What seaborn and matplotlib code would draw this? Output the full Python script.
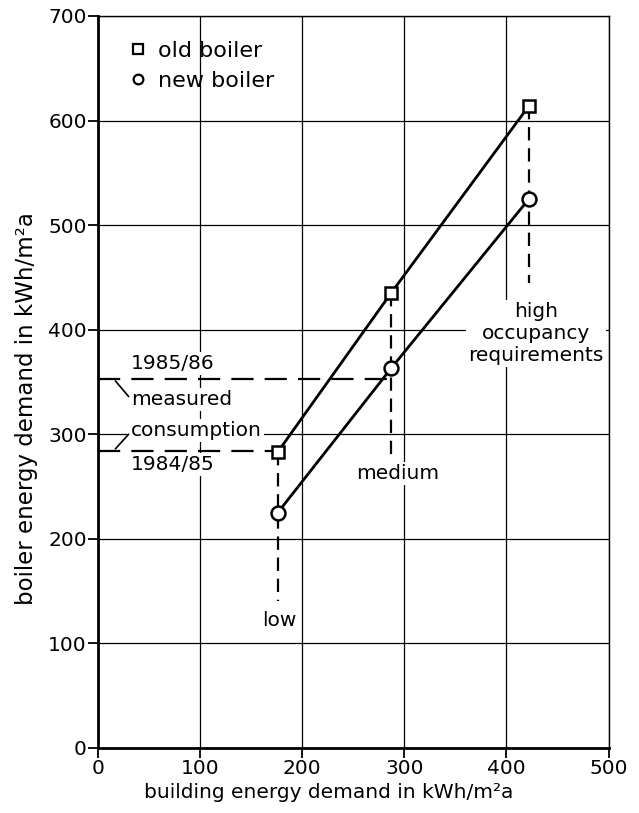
import matplotlib
matplotlib.use("Agg")
import matplotlib.pyplot as plt
from matplotlib.lines import Line2D
import seaborn as sns
import pandas as pd

# ---- data ----
occupancy = ["low", "medium", "high"]
building_demand = [176, 287, 422]
old_boiler = [283, 435, 614]
new_boiler = [225, 363, 525]
measured_8586 = 353
measured_8485 = 284
x_ticks = [0, 100, 200, 300, 400, 500]
y_ticks = [0, 100, 200, 300, 400, 500, 600, 700]
# lower ends of vertical dashed drop lines
drop_ends = [141, 280, 445]

df = pd.DataFrame({
    "building": building_demand * 2,
    "boiler": old_boiler + new_boiler,
    "series": ["old boiler"] * 3 + ["new boiler"] * 3,
})

sns.set_theme(style="white")
plt.rcParams["font.family"] = ["DejaVu Sans"]
plt.rcParams["text.color"] = "black"
plt.rcParams["axes.labelcolor"] = "black"

fig = plt.figure(figsize=(6.39, 8.13), dpi=100)
ax = fig.add_axes([0.1534, 0.0800, 0.799, 0.9004])

ax.set_xlim(0, 500)
ax.set_ylim(0, 700)
ax.set_xticks(x_ticks)
ax.set_yticks(y_ticks)
ax.grid(True, color="black", linewidth=0.9, zorder=0)
ax.set_axisbelow(True)

for s in ["left", "bottom"]:
    ax.spines[s].set_linewidth(2.0)
for s in ["top", "right"]:
    ax.spines[s].set_linewidth(1.0)
for s in ax.spines.values():
    s.set_color("black")

ax.tick_params(axis="both", which="major", direction="out", length=7, width=1.3,
               color="black", labelsize=14.5, pad=1, labelcolor="black")
ax.tick_params(left=True, bottom=True)

# drop lines
for x, top, bot in zip(building_demand, old_boiler, drop_ends):
    ax.plot([x, x], [top, bot], color="black", lw=1.6, ls=(0, (6, 3.5)), zorder=2)

# measured consumption dashed lines
ax.plot([0, building_demand[1]], [measured_8586, measured_8586], color="black",
        lw=1.6, ls=(0, (10, 5)), zorder=2)
ax.plot([0, building_demand[0]], [measured_8485, measured_8485], color="black",
        lw=1.6, ls=(0, (10, 5)), zorder=2)

# data series
sns.lineplot(data=df[df.series == "old boiler"], x="building", y="boiler", ax=ax,
             color="black", lw=2.0, marker="s", markersize=9, markerfacecolor="white",
             markeredgecolor="black", markeredgewidth=1.8, zorder=5, legend=False)
sns.lineplot(data=df[df.series == "new boiler"], x="building", y="boiler", ax=ax,
             color="black", lw=2.0, marker="o", markersize=10, markerfacecolor="white",
             markeredgecolor="black", markeredgewidth=1.8, zorder=5, legend=False)

tkw = dict(fontsize=14.5, color="black", zorder=3,
           bbox=dict(facecolor="white", edgecolor="none", pad=1.5))

ax.text(32, 368, "1985/86", ha="left", va="center", **tkw)
ax.text(32, 333, "measured", ha="left", va="center", **tkw)
ax.text(32, 304, "consumption", ha="left", va="center", **tkw)
ax.text(32, 271, "1984/85", ha="left", va="center", **tkw)
ax.plot([17, 30], [351, 336], color="black", lw=1.2, zorder=4)
ax.plot([17, 30], [286, 300], color="black", lw=1.2, zorder=4)

ax.text(building_demand[0] + 2, 122, "low", ha="center", va="center", **tkw)
ax.text(building_demand[1] + 6, 262, "medium", ha="center", va="center", **tkw)
ax.text(429, 396, "high\noccupancy\nrequirements", ha="center", va="center",
        linespacing=1.2, **tkw)

# legend
handles = [
    Line2D([], [], marker="s", ls="none", markersize=7, markerfacecolor="white",
           markeredgecolor="black", markeredgewidth=1.6, label="old boiler"),
    Line2D([], [], marker="o", ls="none", markersize=7, markerfacecolor="white",
           markeredgecolor="black", markeredgewidth=1.6, label="new boiler"),
]
leg = ax.legend(handles=handles, loc="upper left", bbox_to_anchor=(0.045, 0.978),
                frameon=False, fontsize=16, handlelength=0.7, handletextpad=0.55,
                labelspacing=0.45, borderaxespad=0, labelcolor="black")

ax.set_xlabel("building energy demand in kWh/m²a", fontsize=14.5, color="black")
ax.xaxis.set_label_coords(0.451, -0.048)
ax.set_ylabel("boiler energy demand in kWh/m²a", fontsize=16.5, color="black")
ax.yaxis.set_label_coords(-0.117, 0.464)

fig.savefig("out.png", dpi=100, facecolor="white")
